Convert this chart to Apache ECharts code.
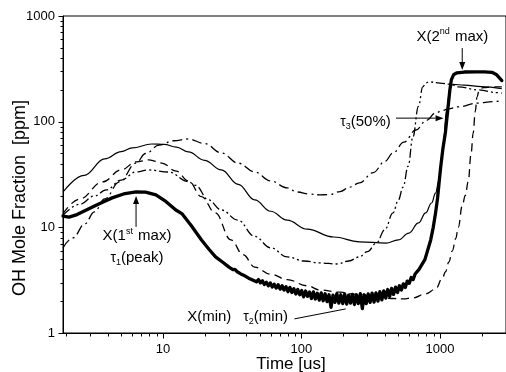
<!DOCTYPE html>
<html><head><meta charset="utf-8">
<script src="https://cdn.jsdelivr.net/npm/echarts@6/dist/echarts.min.js"></script>
<style>html,body{margin:0;padding:0;background:#fff}#c{width:506px;height:372px}</style>
</head><body><div id="c"></div>
<script>
const FONT = 'Liberation Sans, Arial, Helvetica, sans-serif';

// ---- axis ranges / ticks ----
const xMin = 1.9, xMax = 3000, yMin = 1, yMax = 1000;
const xMajorTicks = [10, 100, 1000];
const xMinorTicks = [2,3,4,5,6,7,8,9,20,30,40,50,60,70,80,90,200,300,400,500,600,700,800,900,2000,3000];
const yMajorTicks = [1, 10, 100, 1000];
const yMinorTicks = [2,3,4,5,6,7,8,9,20,30,40,50,60,70,80,90,200,300,400,500,600,700,800,900];

// ---- series data (time in us, OH in ppm) ----
const boldTime = [1.9,2.1,2.4,2.8,3.1,3.7,4.3,5.2,6.4,7.5,8.9,10.5,12.4,13.7,16,19,21.5,24,27.5,
  30,31,32,33.1,34.2,35.3,36.5,37.7,39,40.3,41.6,43,44.4,45.9,47.4,49,50.6,52.3,54,55.8,57.7,59.6,61.6,63.6,65.7,67.9,
  70.2,72.5,74.9,77.4,80,82.6,85.3,88.2,91.1,94.1,97.2,100.4,103.7,107.2,110.7,114.4,118.2,122.1,126.1,130.3,134.6,139,
  143.6,148.4,153.3,158.3,163.6,169,174.6,180.3,186.3,192.4,198.8,205.4,212.2,219.2,226.4,233.9,241.6,249.6,257.9,266.4,
  275.2,284.3,293.7,303.4,313.4,323.8,334.5,345.5,356.9,368.7,380.9,393.5,406.5,419.9,433.8,448.1,462.9,478.2,494,510.3,
  527.2,544.6,562.6,581.2,600.4,620.2,640.7,661.9,683.8,706.4,729.7,753.8,778.7,804.4,
  858,895,930,960,985,1010,1050,1097,1140,1180,1210,1260,1330,1500,1800,2100,2373,2550,2700,2800];
const boldOH = [12.8,12.5,13.2,14.6,15.6,17.4,19.0,20.7,21.6,21.5,20.3,17.6,14.6,13.5,10.4,7.6,6.2,5.25,4.6,
  4.2,4.12,3.98,4.0,3.82,3.85,3.62,3.7,3.48,3.55,3.3,3.42,3.18,3.3,3.05,3.2,2.98,3.12,2.88,3.02,2.8,2.98,2.72,2.9,2.66,2.86,
  2.6,2.8,2.55,2.74,2.46,2.7,2.42,2.62,2.34,2.58,2.3,2.52,2.2,2.5,2.22,2.44,2.12,2.45,2.1,2.38,2.05,2.4,
  2.02,2.35,1.98,2.3,1.75,2.28,1.95,2.36,1.92,2.3,1.9,2.34,1.88,2.28,1.92,2.32,1.86,2.3,1.9,2.36,
  1.7,2.3,1.9,2.34,1.95,2.38,1.96,2.4,2.0,2.46,2.06,2.5,2.14,2.58,2.22,2.64,2.32,2.72,2.42,2.8,
  2.55,2.92,2.7,3.1,2.95,3.35,3.2,3.62,3.55,4.0,4.05,4.6,4.95,5.7,
  7.6,10,13.7,18.5,26,36,55,80,130,200,250,280,290,295,296,296,293,280,258,245];

const thinTime = [1.9,2.7,3.8,5.0,6.0,8.3,10.2,12.5,15.3,20,26.4,35,46,60,79,110,171,262,409,500,597,700,789,870,930,985,1050,1120,1180,1240,1500,2000,2800];
const thinOH   = [21.6,31,44.4,52,56.4,61.5,61,57.5,51.7,43,34.9,25.5,18.2,14.2,11.7,9.6,8.1,7.3,7.1,7.6,8.8,11,13.7,17,21.1,28,55,130,205,225,222,215,205];

const dashTime = [1.9,2.5,3.67,5.0,6.4,7.95,9.8,12.5,15.3,19,23.9,31,38,46,60,79,110,136,180,250,365,459,545,638,789,930,1042,1097,1160,1230,1300,1358,1449,1525,1600,1680,1738,1800,1853,1920,2050,2400,2800];
const dashOH   = [13.5,18.5,26.9,35,41.6,43.5,40.6,34,27.5,19.5,13.7,7.6,5.5,4.2,3.6,3.2,2.8,2.56,2.45,2.32,2.2,2.12,2.1,2.15,2.35,2.6,3.3,3.8,4.7,6,7.8,10,16,20,27,50,78,125,171,200,210,213,213];

const dashDotDotTime = [1.9,2.5,3.2,3.9,5.0,6.4,7.95,11,15.3,17.2,21.3,26.4,34.8,46,60,79,105,136,180,220,262,300,348,400,459,500,542,590,638,700,752,790,830,1000,1200,1358,1883,2620,2800];
const dashDotDotOH   = [13,16.5,19.8,22.6,28,33.4,34.9,33.4,27,25,18.2,14.6,11.7,8.2,6.4,5.25,4.8,4.6,4.5,4.8,5.25,5.9,7.1,9.5,13.7,18,24,38,71.6,140,213,232,238,232,226,213,200,188,186];

const dashDotTime = [1.9,2.24,2.73,3.2,3.8,4.86,6.4,7.5,9.4,12,15.3,20,26.4,35,46,60,79,93,115,136,160,190,223,262,330,400,459,550,670,800,930,1050,1151,1358,1883,2400,2800];
const dashDotOH   = [6.4,7.95,10.8,14,18.6,26.9,40.6,50,60,66,68.6,62,50.6,40.5,33.4,27.5,23.6,21.6,20.6,20.3,20.4,21.8,24,26.3,33,42,50.6,64,83.4,103,121,128,132,138,150,155,157];

// ---- annotations (anchored in data coordinates) ----
const annotTexts = [
  {t: 6.5, c: 8.3, text: '{n|X(1}{s|st}{n| max)}'},
  {t: 6.5, c: 5.13, text: '{g|τ}{b|1}{n|(peak)}'},
  {t: 1230, c: 640, text: '{n|X(2}{s|nd}{n| max)}'},
  {t: 290, c: 99.3, text: '{g|τ}{b|3}{n|(50%)}'},
  {t: 21.6, c: 1.42, text: '{n|X(min)}'},
  {t: 55.2, c: 1.42, text: '{g|τ}{b|2}{n|(min)}'}
];
const annotArrows = [
  {from: [6.4, 10.1], to: [6.4, 19.8], head: true},
  {from: [1449, 497], to: [1449, 308], head: true},
  {from: [482, 108], to: [1062, 108], head: true},
  {from: [89, 1.36], to: [209, 1.69], head: false}
];

function zip(a, b) { return a.map((v, i) => [v, b[i]]); }

const tickData = [];
xMajorTicks.forEach(v => tickData.push([v, yMin, 0, 1]));
xMinorTicks.forEach(v => tickData.push([v, yMin, 0, 0]));
yMajorTicks.forEach(v => tickData.push([xMin, v, 1, 1]));
yMinorTicks.forEach(v => tickData.push([xMin, v, 1, 0]));

const chart = echarts.init(document.getElementById('c'), null, {renderer: 'canvas'});
const lineBase = {type: 'line', symbol: 'none', showSymbol: false, silent: true, animation: false};
const option = {
  animation: false,
  backgroundColor: '#fff',
  grid: {left: 63, top: 16, right: -5, bottom: 39, show: true, borderColor: '#000', borderWidth: 1, backgroundColor: 'transparent'},
  xAxis: {
    type: 'log', min: xMin, max: xMax, logBase: 10,
    axisLine: {lineStyle: {color: '#000', width: 1}},
    axisTick: {show: false},
    splitLine: {show: false},
    axisLabel: {color: '#000', fontFamily: FONT, fontSize: 13, margin: 10, showMinLabel: false, showMaxLabel: false,
      formatter: v => String(Math.round(v))}
  },
  yAxis: {
    type: 'log', min: yMin, max: yMax, logBase: 10,
    axisLine: {lineStyle: {color: '#000', width: 1}},
    axisTick: {show: false},
    splitLine: {show: false},
    axisLabel: {color: '#000', fontFamily: FONT, fontSize: 13, margin: 8, formatter: v => String(Math.round(v))}
  },
  series: [
    Object.assign({}, lineBase, {name: 'dashdot', data: zip(dashDotTime, dashDotOH), smooth: 0.4, smoothMonotone: 'x',
      lineStyle: {color: '#000', width: 1.3, type: [10, 4, 2, 4]}}),
    Object.assign({}, lineBase, {name: 'dashdotdot', data: zip(dashDotDotTime, dashDotDotOH), smooth: 0.4, smoothMonotone: 'x',
      lineStyle: {color: '#000', width: 1.3, type: [9, 3, 2, 3, 2, 3]}}),
    Object.assign({}, lineBase, {name: 'dashed', data: zip(dashTime, dashOH), smooth: 0.4, smoothMonotone: 'x',
      lineStyle: {color: '#000', width: 1.3, type: [8, 5]}}),
    Object.assign({}, lineBase, {name: 'thin', data: zip(thinTime, thinOH), smooth: 0.4, smoothMonotone: 'x',
      lineStyle: {color: '#000', width: 1.2, type: 'solid'}}),
    Object.assign({}, lineBase, {name: 'bold', data: zip(boldTime, boldOH), smooth: false, z: 3,
      lineStyle: {color: '#000', width: 3.3, type: 'solid', join: 'round', cap: 'round'}}),
    {
      type: 'custom', name: 'ticks', coordinateSystem: 'cartesian2d', clip: false, silent: true, z: 4,
      data: tickData,
      renderItem: function (params, api) {
        const p = api.coord([api.value(0), api.value(1)]);
        const len = api.value(3) ? 5 : 3;
        const x = Math.round(p[0]) + 0.5, y = Math.round(p[1]) + 0.5;
        const shape = api.value(2) === 0 ? {x1: x, y1: y, x2: x, y2: y + len} : {x1: x - len, y1: y, x2: x, y2: y};
        return {type: 'line', shape: shape, style: {stroke: '#000', lineWidth: 1}};
      }
    }
  ]
};
chart.setOption(option);

// ---- annotation graphics ----
const rich = {
  n: {fontSize: 15, fontFamily: FONT, color: '#000', lineHeight: 18},
  g: {fontSize: 14, fontFamily: FONT, color: '#000', lineHeight: 18},
  s: {fontSize: 9, fontFamily: FONT, color: '#000', verticalAlign: 'top', lineHeight: 18, padding: [0, 1, 0, 0]},
  b: {fontSize: 9, fontFamily: FONT, color: '#000', verticalAlign: 'bottom', lineHeight: 14}
};
const toPx = (t, c) => chart.convertToPixel({gridIndex: 0}, [t, c]);
const graphics = [];
annotTexts.forEach(a => {
  const p = toPx(a.t, a.c);
  graphics.push({type: 'text', silent: true, z: 10, style: {text: a.text, x: p[0], y: p[1], align: 'center', verticalAlign: 'middle', rich: rich, fill: '#000'}});
});
annotArrows.forEach(a => {
  const p1 = toPx(a.from[0], a.from[1]);
  const p2 = toPx(a.to[0], a.to[1]);
  const dx = p2[0] - p1[0], dy = p2[1] - p1[1];
  const L = Math.sqrt(dx * dx + dy * dy), ux = dx / L, uy = dy / L;
  const hl = a.head ? 8 : 0, hw = 3;
  const bx = p2[0] - ux * hl, by = p2[1] - uy * hl;
  graphics.push({type: 'line', silent: true, z: 10, shape: {x1: p1[0], y1: p1[1], x2: bx, y2: by}, style: {stroke: '#000', lineWidth: 1}});
  if (a.head) {
    graphics.push({type: 'polygon', silent: true, z: 10, shape: {points: [[p2[0], p2[1]], [bx - uy * hw, by + ux * hw], [bx + uy * hw, by - ux * hw]]}, style: {fill: '#000'}});
  }
});
graphics.push({type: 'text', silent: true, z: 10, style: {text: 'Time [us]', x: 291, y: 364, align: 'center', verticalAlign: 'middle', font: '17px ' + FONT, fill: '#000'}});
graphics.push({type: 'text', silent: true, z: 10, rotation: Math.PI / 2, x: 20, y: 198, style: {text: 'OH Mole Fraction  [ppm]', x: 0, y: 0, align: 'center', verticalAlign: 'middle', font: '18px ' + FONT, fill: '#000'}});
chart.setOption({graphic: graphics});
</script>
</body></html>
